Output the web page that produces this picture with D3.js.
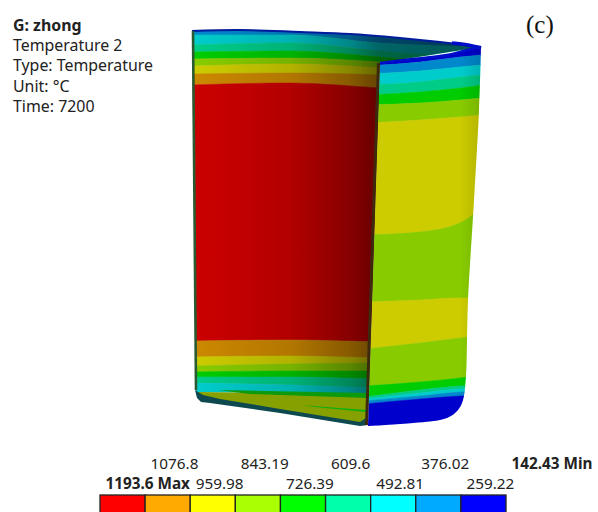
<!DOCTYPE html>
<html>
<head>
<meta charset="utf-8">
<script src="https://cdn.jsdelivr.net/npm/d3@7"></script>
<style>
  html, body { margin: 0; background: #fff; }
  svg { display: block; }
  text { font-family: "Noto Sans", sans-serif; fill: #222; }
</style>
</head>
<body>
<svg id="chart" width="598" height="512"></svg>
<script>
// legend, hot to cold
const legendColors = ['#ff0000', '#ffaa00', '#ffff00', '#aaff00', '#00ff00', '#00ffaa', '#00ffff', '#00aaff', '#0000ff'];
const legendValues = [1193.6, 1076.8, 959.98, 843.19, 726.39, 609.6, 492.81, 376.02, 259.22, 142.43];
const legendTexts = ['1193.6', '1076.8', '959.98', '843.19', '726.39', '609.6', '492.81', '376.02', '259.22', '142.43'];
const infoLines = ['G: zhong', 'Temperature 2', 'Type: Temperature', 'Unit: °C', 'Time: 7200'];

// model coords: u along the width, h up from the floor
// inner wall: band colour index and the h of its upper contour at each station
const innerStations = [0, 100, 190, 300];
const innerLevels = [7, 6, 5, 4, 3, 2, 1, 0, 1, 2, 3, 4, 5, 6];
const innerContours = [
  [401, 401, 401, 401],
  [395, 395, 387, 383],
  [385, 387, 379, 370],
  [378, 379, 373, 362],
  [371, 372, 368, 355],
  [364, 366, 362, 350],
  [356, 357, 355, 345],
  [345, 347, 342, 335],
  [89, 90, 88, 85],
  [73, 74, 72, 70],
  [64, 66, 67, 65],
  [58, 59, 59, 58],
  [53, 53, 51, 50],
  [47, 45, 42, 40],
  [38, 36, 36, 36]
];

// outer wall
const outerStations = [175, 230, 270, 292];
const outerLevels = [8, 7, 6, 5, 4, 3, 2, 3, 2, 3, 4, 5, 6, 7, 8];
const outerContours = [
  [372, 378, 386, 392],
  [364, 368, 373, 375],
  [356, 359, 363, 365],
  [345, 348, 353, 355],
  [335, 338, 342, 345],
  [325, 327, 330, 332],
  [307, 310, 313, 315],
  [195, 198, 207, 223],
  [128, 130, 132, 132],
  [81, 87, 92, 95],
  [44, 48, 52, 55],
  [33, 40, 44, 45],
  [31, 37, 41, 42],
  [29, 34, 38, 39],
  [26, 31, 34, 35],
  [0, 0, 0, 0]
];

// silhouettes
const rim = [[2, 399], [50, 400], [110, 398], [160, 396], [210, 392], [250, 388], [275, 385], [291, 383]];
const rimEnd = [[262, 387], [278, 385], [291, 382]];
const innerBase = [[178, 36], [6, 38]];
const dividerLine = [[190, 367], [178, 5]];
const outerTop = [[190, 367], [223, 371], [257, 375], [277, 380], [291, 383]];
const outerRight = [[291, 383], [289, 320], [284, 230], [278, 130], [277, 90], [276, 55], [273, 30], [268, 20], [257, 12], [223, 7], [178, 4]];
const leftEdge = [[3, 399], [6, 40]];
const floorOutline = [[7, 38], [178, 36], [178, 5], [170, 6], [13, 31]];
const floorGreen = [[28, 40], [178, 37], [178, 32], [60, 36]];
const floorGreen2 = [[110, 25], [176, 20], [176, 18], [125, 23]];
const floorEdge = [[5, 40], [7, 32], [11, 28], [20, 27], [90, 17], [170, 4], [178, 5], [176, 12], [170, 8], [90, 21], [30, 31], [13, 35]];
const shadeInnerStops = [[5, 0.2], [100, 0.3], [160, 0.47], [188, 0.6], [300, 0.68]];
const shadeOuterStops = [[185, 0.2], [270, 0.2], [292, 0.3]];

const svg = d3.select('#chart');
const x = d3.scaleLinear().domain([0, 300]).range([190, 490]);
const y = d3.scaleLinear().domain([0, 400]).range([430, 30]);
const legendX = d3.scaleLinear().domain([1193.6, 142.43]).range([100, 506]);

const defs = svg.append('defs');
defs.append('filter').attr('id', 'soft').append('feGaussianBlur').attr('stdDeviation', 0.6);

function shade(id, stops) {
  const g = defs.append('linearGradient').attr('id', id)
    .attr('gradientUnits', 'userSpaceOnUse')
    .attr('x1', x(stops[0][0])).attr('x2', x(stops[stops.length - 1][0]))
    .attr('y1', 0).attr('y2', 0);
  const span = stops[stops.length - 1][0] - stops[0][0];
  stops.forEach(s => {
    g.append('stop').attr('offset', (s[0] - stops[0][0]) / span)
      .attr('stop-color', '#000').attr('stop-opacity', s[1]);
  });
}
shade('shadeInner', shadeInnerStops);
shade('shadeOuter', shadeOuterStops);

const outline = d3.line().x(d => x(d[0])).y(d => y(d[1]));
const rounded = d3.line().x(d => x(d[0])).y(d => y(d[1])).curve(d3.curveCatmullRom);
const join = (a, b) => a + b.replace('M', 'L');

defs.append('clipPath').attr('id', 'clipInner').append('path')
  .attr('d', join(rounded(rim), outline([rim[rim.length - 1], ...dividerLine, ...innerBase])) + 'Z');
defs.append('clipPath').attr('id', 'clipOuter').append('path')
  .attr('d', join(rounded(outerTop), rounded(outerRight)) + 'Z');

function bands(g, stations, levels, contours) {
  const area = d3.area()
    .x((d, i) => x(stations[i]))
    .y0(d => y(d[1]))
    .y1(d => y(d[0]))
    .curve(d3.curveMonotoneX);
  g.selectAll('path').data(levels).join('path')
    .attr('fill', d => legendColors[d])
    .attr('stroke', d => legendColors[d])
    .attr('stroke-width', 0.5)
    .attr('d', (d, i) => area(contours[i].map((c, j) => [c, contours[i + 1][j]])));
}

const model = svg.append('g').attr('filter', 'url(#soft)');

// inner wall
const inner = model.append('g').attr('clip-path', 'url(#clipInner)');
bands(inner, innerStations, innerLevels, innerContours);
inner.append('rect').attr('x', x(0)).attr('y', y(401))
  .attr('width', x(300) - x(0)).attr('height', y(0) - y(401))
  .attr('fill', 'url(#shadeInner)');

// floor
model.append('path').attr('d', outline(floorOutline) + 'Z').attr('fill', '#86a000');
model.append('path').attr('d', outline(floorGreen) + 'Z').attr('fill', '#0a9a10');
model.append('path').attr('d', outline(floorGreen2) + 'Z').attr('fill', '#10b010');
model.append('path').attr('d', d3.line().x(d => x(d[0])).y(d => y(d[1])).curve(d3.curveLinearClosed)(floorEdge))
  .attr('fill', '#0a4a50');

// outer wall
const outer = model.append('g').attr('clip-path', 'url(#clipOuter)');
bands(outer, outerStations, outerLevels, outerContours);
outer.append('rect').attr('x', x(170)).attr('y', y(401))
  .attr('width', x(300) - x(170)).attr('height', y(0) - y(401))
  .attr('fill', 'url(#shadeOuter)');

// rim and wall edges
model.append('path').attr('d', rounded(rim)).attr('fill', 'none')
  .attr('stroke', '#001a9c').attr('stroke-width', 2);
model.append('path').attr('d', rounded(rimEnd)).attr('fill', 'none')
  .attr('stroke', '#0010c8').attr('stroke-width', 3.5);
model.append('path').attr('d', outline(leftEdge)).attr('fill', 'none')
  .attr('stroke', '#2a5a30').attr('stroke-width', 2.6);
model.append('path').attr('d', outline(dividerLine.map(d => [d[0] - 1.5, d[1]]))).attr('fill', 'none')
  .attr('stroke', '#3c2c10').attr('stroke-width', 3);
model.append('path').attr('d', rounded(outerTop))
  .attr('fill', 'none').attr('stroke', '#0010c8').attr('stroke-width', 2.5);

// info block
const info = svg.append('g');
info.selectAll('text').data(infoLines).join('text')
  .attr('x', 13)
  .attr('y', (d, i) => 31 + i * 20.2)
  .attr('font-size', 15.9)
  .attr('font-weight', (d, i) => i === 0 ? 700 : 400)
  .text(d => d);

svg.append('text').attr('x', 526).attr('y', 33)
  .style('font-family', '"Liberation Serif", serif')
  .style('fill', '#111')
  .attr('font-size', 25).text('(c)');

// legend bar
const legendY = 495;
const legend = svg.append('g');
legend.selectAll('rect').data(legendColors).join('rect')
  .attr('x', (d, i) => legendX(legendValues[i]))
  .attr('y', legendY)
  .attr('width', (d, i) => legendX(legendValues[i + 1]) - legendX(legendValues[i]))
  .attr('height', 24)
  .attr('fill', d => d)
  .attr('stroke', '#222')
  .attr('stroke-width', 1.3);

// tick labels sit on two staggered rows
function legendAxis(values, rowY) {
  const g = svg.append('g').attr('transform', `translate(0,${rowY})`)
    .call(d3.axisTop(legendX).tickValues(values).tickSize(0)
      .tickFormat(v => legendTexts[legendValues.indexOf(v)]));
  g.select('.domain').remove();
  g.selectAll('text')
    .attr('text-anchor', 'start')
    .attr('dx', 5)
    .attr('dy', 0)
    .attr('y', 0)
    .style('font-family', '"Noto Sans", sans-serif')
    .attr('font-size', 15.3)
    .style('fill', '#222');
  g.selectAll('.tick').each(function (v) {
    if (v === legendValues[0] || v === legendValues[legendValues.length - 1]) {
      d3.select(this).select('text')
        .attr('font-weight', 700)
        .text(legendTexts[legendValues.indexOf(v)] + (v === legendValues[0] ? ' Max' : ' Min'));
    }
  });
}
legendAxis(legendValues.filter((v, i) => i % 2 === 1), 469);
legendAxis(legendValues.filter((v, i) => i % 2 === 0), 489);
</script>
</body>
</html>
